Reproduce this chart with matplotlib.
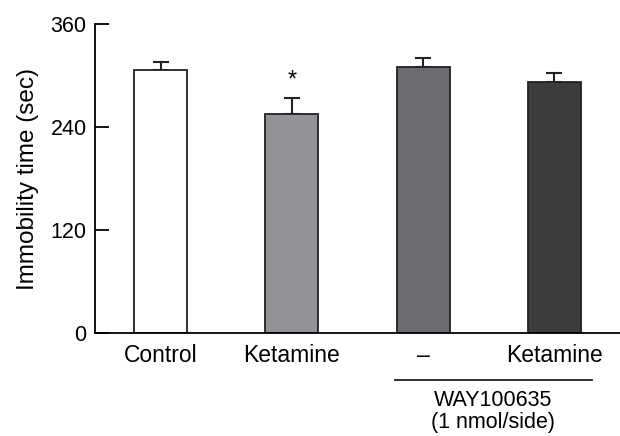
import matplotlib
matplotlib.use("Agg")
import matplotlib.pyplot as plt
import matplotlib.transforms as mtransforms

categories = ["Control", "Ketamine", "\u2013", "Ketamine"]
values = [307, 255, 310, 292]
errors = [9, 19, 10.5, 10.5]
colors = ["#ffffff", "#929396", "#6b6c70", "#3c3c3c"]
yticks = [0, 120, 240, 360]
group_label = "WAY100635\n(1 nmol/side)"

plt.rcParams['font.family'] = ['Liberation Sans', 'DejaVu Sans']

fig = plt.figure(figsize=(6.2, 4.36), dpi=100)
ax = fig.add_axes([0.1532, 0.2362, 0.8468, 0.7087])

x = list(range(len(categories)))
ax.bar(x, values, width=0.404, color=colors, edgecolor="#222222", linewidth=1.3, zorder=2)
ax.errorbar(x, values, yerr=[[0]*len(errors), errors], fmt="none", ecolor="#222222",
            elinewidth=1.5, capsize=6, capthick=1.5, zorder=1)

ax.set_xlim(-0.5, 3.5)
ax.set_ylim(0, 360)
ax.set_yticks(yticks)
ax.set_xticks(x)
ax.set_xticklabels(categories, fontsize=16.5)
ax.tick_params(axis='y', direction='in', length=10, width=1.3, labelsize=15.5, pad=6)
ax.tick_params(axis='x', length=0, pad=8)
for s in ['top', 'right']:
    ax.spines[s].set_visible(False)
ax.spines['left'].set_linewidth(1.3)
ax.spines['bottom'].set_linewidth(1.3)
ax.set_ylabel("Immobility time (sec)", fontsize=17.5, labelpad=8)

# significance asterisk
ax.text(1, values[1] + errors[1] + 20, "*", ha='center', va='center', fontsize=17)

# group annotation
trans = mtransforms.blended_transform_factory(ax.transData, ax.transAxes)
ax.plot([1.786, 3.286], [-0.152, -0.152], transform=trans, color="#222222",
        linewidth=1.3, clip_on=False)
ax.text(2.536, -0.183, group_label, transform=trans, ha='center', va='top',
        fontsize=15.5, linespacing=1.12)

fig.savefig("out.png", dpi=100)
